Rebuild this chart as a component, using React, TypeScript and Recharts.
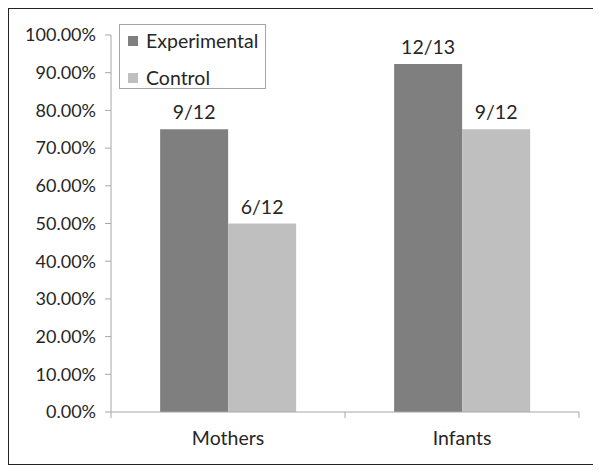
import React from 'react';
import { BarChart, Bar, XAxis, YAxis, Legend, LabelList } from 'recharts';

const categories = ['Mothers', 'Infants'];
const experimental = [75, 92.31];
const control = [50, 75];
const experimentalLabels = ['9/12', '12/13'];
const controlLabels = ['6/12', '9/12'];
const yTicks = [0, 10, 20, 30, 40, 50, 60, 70, 80, 90, 100];

const data = categories.map((name, i) => ({
  name,
  experimental: experimental[i],
  control: control[i],
  expLabel: experimentalLabels[i],
  ctrlLabel: controlLabels[i],
}));

const W = 584;
const H = 455;
const margin = { top: 26, right: 14, left: 0, bottom: 12 };
const yAxisWidth = 102;
const bandWidth = (W - margin.left - margin.right - yAxisWidth) / categories.length;
const font = 'Lato, "Open Sans", sans-serif';
const textColor = '#262626';
const axisColor = '#a6a6a6';

const XTick = (props: any) => {
  const { x, y, payload, index } = props;
  return (
    <g>
      <line x1={x - bandWidth / 2} y1={y} x2={x - bandWidth / 2} y2={y + 6} stroke={axisColor} />
      {index === categories.length - 1 && (
        <line x1={x + bandWidth / 2} y1={y} x2={x + bandWidth / 2} y2={y + 6} stroke={axisColor} />
      )}
      <text x={x} y={y + 25} textAnchor="middle" dominantBaseline="central" fill={textColor} fontSize={19.5} fontFamily={font}>
        {payload.value}
      </text>
    </g>
  );
};

const LegendBox = () => (
  <div
    style={{
      width: 145,
      height: 63,
      border: '1px solid #a6a6a6',
      background: '#fff',
      fontFamily: font,
      fontSize: 19.5,
      color: textColor,
      position: 'relative',
    }}
  >
    <div style={{ position: 'absolute', left: 8, top: 4, display: 'flex', alignItems: 'center' }}>
      <span style={{ width: 10, height: 10, background: '#7f7f7f', marginRight: 8 }} />
      Experimental
    </div>
    <div style={{ position: 'absolute', left: 8, top: 41, display: 'flex', alignItems: 'center' }}>
      <span style={{ width: 10, height: 10, background: '#bfbfbf', marginRight: 8 }} />
      Control
    </div>
  </div>
);

export default function App() {
  return (
    <div style={{ width: W, height: H, border: '1px solid #222', background: '#fff' }}>
      <BarChart width={W} height={H} data={data} margin={margin} barGap={0} barCategoryGap="21%">
        <XAxis
          dataKey="name"
          stroke={axisColor}
          tickSize={0}
          tickMargin={0}
          height={40}
          tick={<XTick />}
        />
        <YAxis
          width={yAxisWidth}
          domain={[0, 100]}
          ticks={yTicks}
          interval={0}
          stroke={axisColor}
          tickSize={6}
          tickMargin={9}
          tickFormatter={(v: number) => v.toFixed(2) + '%'}
          tick={{ fill: textColor, fontSize: 18, fontFamily: font }}
        />
        <Legend
          layout="vertical"
          align="center"
          verticalAlign="middle"
          content={<LegendBox />}
          wrapperStyle={{ left: 110, top: 15, width: 147, height: 65 }}
        />
        <Bar dataKey="experimental" fill="#7f7f7f" isAnimationActive={false}>
          <LabelList dataKey="expLabel" position="top" offset={10} fill={textColor} fontSize={19.5} fontFamily={font} />
        </Bar>
        <Bar dataKey="control" fill="#bfbfbf" isAnimationActive={false}>
          <LabelList dataKey="ctrlLabel" position="top" offset={10} fill={textColor} fontSize={19.5} fontFamily={font} />
        </Bar>
      </BarChart>
    </div>
  );
}
